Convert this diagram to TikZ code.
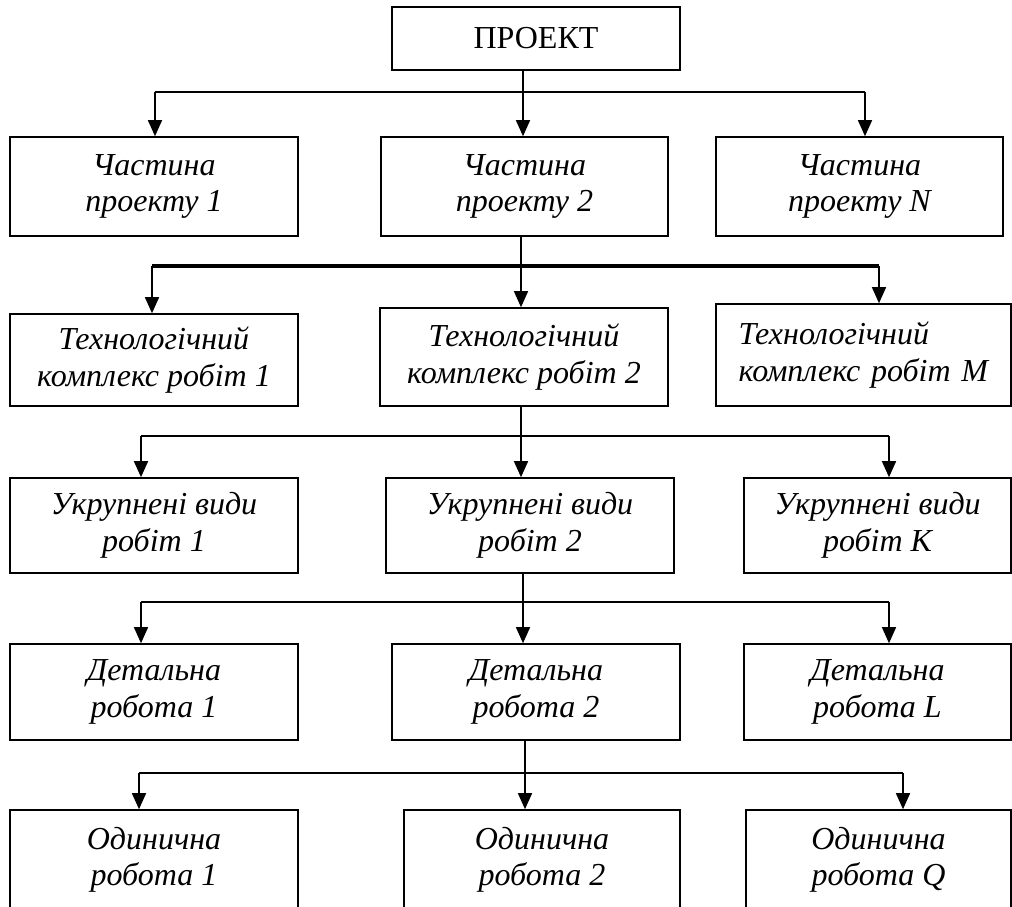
\documentclass[tikz,border=0pt]{standalone}
\usepackage{fontspec}
\setmainfont{Liberation Serif}
\usetikzlibrary{arrows.meta}
\begin{document}
\begin{tikzpicture}[x=1pt,y=-1pt,
  box/.style={draw,line width=1.6pt,rectangle,inner sep=0pt,align=center,
    font=\fontsize{32}{36.5}\selectfont\itshape},
  bus/.style={line width=2pt},
  thickbus/.style={line width=3.4pt},
  stem/.style={line width=1.5pt},
  arr/.style={line width=1.5pt,-{Triangle[length=16pt,width=14pt]}}]
\useasboundingbox (0,0) rectangle (1012,907);
% boxes
\node[box,font=\fontsize{32}{36.5}\selectfont,minimum width=288pt,minimum height=63pt] (P) at (536,38.5) {ПРОЕКТ};
\node[box,minimum width=288pt,minimum height=99pt] (A1) at (154,186.5) {Частина\\проекту 1};
\node[box,minimum width=287pt,minimum height=99pt] (A2) at (524.5,186.5) {Частина\\проекту 2};
\node[box,minimum width=287pt,minimum height=99pt] (A3) at (859.5,186.5) {Частина\\проекту N};
\node[box,minimum width=288pt,minimum height=92pt] (B1) at (154,360) {Технологічний\\комплекс робіт 1};
\node[box,minimum width=288pt,minimum height=98pt] (B2) at (524,357) {Технологічний\\комплекс робіт 2};
\node[box,minimum width=295pt,minimum height=102pt,align=left,text width=250pt] (B3) at (863.5,355) {Технологічний\\комплекс робіт M};
\node[box,minimum width=288pt,minimum height=95pt] (C1) at (154,525.5) {Укрупнені види\\робіт 1};
\node[box,minimum width=288pt,minimum height=95pt] (C2) at (530,525.5) {Укрупнені види\\робіт 2};
\node[box,minimum width=267pt,minimum height=95pt] (C3) at (877.5,525.5) {Укрупнені види\\робіт K};
\node[box,minimum width=288pt,minimum height=96pt] (D1) at (154,692) {Детальна\\робота 1};
\node[box,minimum width=288pt,minimum height=96pt] (D2) at (536,692) {Детальна\\робота 2};
\node[box,minimum width=267pt,minimum height=96pt] (D3) at (877.5,692) {Детальна\\робота L};
\node[box,minimum width=288pt,minimum height=100pt] (E1) at (154,860) {Одинична\\робота 1};
\node[box,minimum width=276pt,minimum height=100pt] (E2) at (542,860) {Одинична\\робота 2};
\node[box,minimum width=265pt,minimum height=100pt] (E3) at (878.5,860) {Одинична\\робота Q};
% bus 1
\coordinate (b1l) at (155,92); \coordinate (b1m) at (523,92); \coordinate (b1r) at (865,92);
\draw[bus] (b1l) -- (b1r);
\draw[stem] (P.south -| b1m) -- (b1m);
\draw[arr] (b1l) -- (b1l |- A1.north);
\draw[arr] (b1m) -- (b1m |- A2.north);
\draw[arr] (b1r) -- (b1r |- A3.north);
% bus 2
\coordinate (b2l) at (152,266); \coordinate (b2m) at (521,266); \coordinate (b2r) at (879,266);
\draw[thickbus] (b2l) -- (b2r);
\draw[stem] (A2.south -| b2m) -- (b2m);
\draw[arr] (b2l) -- (b2l |- B1.north);
\draw[arr] (b2m) -- (b2m |- B2.north);
\draw[arr] (b2r) -- (b2r |- B3.north);
% bus 3
\coordinate (b3l) at (141,436); \coordinate (b3m) at (521,436); \coordinate (b3r) at (889,436);
\draw[bus] (b3l) -- (b3r);
\draw[stem] (B2.south -| b3m) -- (b3m);
\draw[arr] (b3l) -- (b3l |- C1.north);
\draw[arr] (b3m) -- (b3m |- C2.north);
\draw[arr] (b3r) -- (b3r |- C3.north);
% bus 4
\coordinate (b4l) at (141,602); \coordinate (b4m) at (523,602); \coordinate (b4r) at (889,602);
\draw[bus] (b4l) -- (b4r);
\draw[stem] (C2.south -| b4m) -- (b4m);
\draw[arr] (b4l) -- (b4l |- D1.north);
\draw[arr] (b4m) -- (b4m |- D2.north);
\draw[arr] (b4r) -- (b4r |- D3.north);
% bus 5
\coordinate (b5l) at (139,773); \coordinate (b5m) at (525,773); \coordinate (b5r) at (903,773);
\draw[bus] (b5l) -- (b5r);
\draw[stem] (D2.south -| b5m) -- (b5m);
\draw[arr] (b5l) -- (b5l |- E1.north);
\draw[arr] (b5m) -- (b5m |- E2.north);
\draw[arr] (b5r) -- (b5r |- E3.north);
\end{tikzpicture}
\end{document}
